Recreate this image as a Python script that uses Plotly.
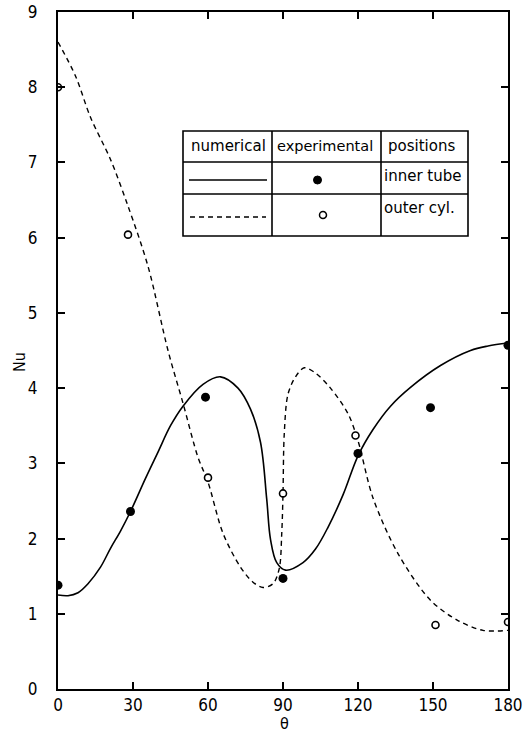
import plotly.graph_objects as go

# numerical (inner tube) - solid
num_inner_theta = [0, 4, 8, 12, 17, 21, 25, 29, 35, 40, 45, 50, 58, 65, 72, 77, 81, 83.5, 85, 87.5, 91, 98, 103, 108, 114, 120, 126, 133, 141, 153, 165, 172, 180]
num_inner_nu = [1.25, 1.24, 1.28, 1.4, 1.62, 1.87, 2.1, 2.36, 2.8, 3.15, 3.5, 3.76, 4.05, 4.15, 4.0, 3.72, 3.28, 2.52, 1.99, 1.68, 1.58, 1.68, 1.86, 2.15, 2.58, 3.1, 3.45, 3.76, 4.01, 4.3, 4.5, 4.56, 4.6]

# numerical (outer cyl.) - dashed
num_outer_theta = [0, 7, 13, 21, 28, 36, 44, 50, 56, 60, 66, 73, 78, 82, 86, 88.5, 89.5, 90, 90.5, 92, 95, 98.5, 103, 109, 116, 120, 126, 136, 149, 160, 170, 180]
num_outer_nu = [8.6, 8.15, 7.6, 7.04, 6.42, 5.62, 4.5, 3.8, 3.08, 2.75, 2.07, 1.62, 1.42, 1.35, 1.4, 1.6, 2.07, 2.6, 3.39, 3.92, 4.15, 4.27, 4.2, 4.0, 3.66, 3.3, 2.54, 1.8, 1.18, 0.91, 0.78, 0.78]

# experimental
exp_inner_theta = [0, 29, 59, 90, 120, 149, 180]
exp_inner_nu = [1.38, 2.36, 3.88, 1.47, 3.13, 3.74, 4.57]
exp_outer_theta = [0, 28, 60, 90, 119, 151, 180]
exp_outer_nu = [8.0, 6.04, 2.81, 2.6, 3.37, 0.85, 0.89]

x_ticks = [0, 30, 60, 90, 120, 150, 180]
y_ticks = [0, 1, 2, 3, 4, 5, 6, 7, 8, 9]

FONT = "Liberation Sans Narrow, DejaVu Sans Condensed, sans-serif"
TFONT = "DejaVu Sans, sans-serif"

fig = go.Figure()
fig.add_trace(go.Scatter(x=num_inner_theta, y=num_inner_nu, mode="lines",
                         line=dict(color="black", width=1.6, shape="spline", smoothing=1.0)))
fig.add_trace(go.Scatter(x=num_outer_theta, y=num_outer_nu, mode="lines",
                         line=dict(color="black", width=1.4, dash="5px,4px", shape="spline", smoothing=0.9)))
fig.add_trace(go.Scatter(x=exp_inner_theta, y=exp_inner_nu, mode="markers",
                         marker=dict(color="black", size=9, symbol="circle")))
fig.add_trace(go.Scatter(x=exp_outer_theta, y=exp_outer_nu, mode="markers",
                         marker=dict(color="white", size=7, symbol="circle",
                                     line=dict(color="black", width=1.6))))

axis_common = dict(showgrid=False, zeroline=False, showline=True, linecolor="black",
                   linewidth=2, mirror="ticks", ticks="inside", ticklen=7, tickwidth=1.5,
                   tickcolor="black", automargin=False, ticklabeloverflow="allow",
                   tickfont=dict(family=FONT, size=17, color="black"))

fig.update_xaxes(range=[0, 180], tickvals=x_ticks, ticktext=[str(v) for v in x_ticks], **axis_common)
fig.update_yaxes(range=[0, 9], tickvals=y_ticks, ticktext=[str(v) for v in y_ticks],
                 ticklabelstandoff=15, **axis_common)

# screen-pixel helpers -> paper coords (plot area spans x 58..508, y 12..689)
def px(x):
    return (x - 58) / 450.0

def py(y):
    return (689 - y) / 677.0

L, C1, C2, R = px(183), px(272), px(381), px(468)
T, H1, H2, B = py(131), py(162), py(194), py(236)
shapes = []
line_style = dict(color="black", width=1.6)
shapes.append(dict(type="rect", xref="paper", yref="paper", x0=L, x1=R, y0=B, y1=T, line=line_style, fillcolor="white", layer="above"))
for yy in (H1, H2):
    shapes.append(dict(type="line", xref="paper", yref="paper", x0=L, x1=R, y0=yy, y1=yy, line=line_style, layer="above"))
for xx in (C1, C2):
    shapes.append(dict(type="line", xref="paper", yref="paper", x0=xx, x1=xx, y0=B, y1=T, line=line_style, layer="above"))
# sample lines
shapes.append(dict(type="line", xref="paper", yref="paper", x0=px(189), x1=px(267), y0=py(180), y1=py(180),
                   line=dict(color="black", width=1.6), layer="above"))
shapes.append(dict(type="line", xref="paper", yref="paper", x0=px(190), x1=px(266), y0=py(217), y1=py(217),
                   line=dict(color="black", width=1.4, dash="5px,4px"), layer="above"))
# sample markers
shapes.append(dict(type="circle", xref="paper", yref="paper", x0=px(313.5), x1=px(321.5), y0=py(184), y1=py(176),
                   line=dict(color="black", width=1), fillcolor="black", layer="above"))
shapes.append(dict(type="circle", xref="paper", yref="paper", x0=px(319.5), x1=px(326.5), y0=py(218.5), y1=py(211.5),
                   line=dict(color="black", width=1.5), fillcolor="white", layer="above"))

annotations = []
annotations.append(dict(text="numerical", x=px(228), y=py(146), xref="paper", yref="paper", showarrow=False,
                        font=dict(family=TFONT, size=15, color="black"), xanchor="center", yanchor="middle"))
annotations.append(dict(text="experimental", x=px(325), y=py(146), xref="paper", yref="paper", showarrow=False,
                        font=dict(family=TFONT, size=14.5, color="black"), xanchor="center", yanchor="middle"))
annotations.append(dict(text="positions", x=px(386), y=py(146), xref="paper", yref="paper", showarrow=False,
                        font=dict(family=TFONT, size=15, color="black"), xanchor="left", yanchor="middle"))
annotations.append(dict(text="inner tube", x=px(382), y=py(176), xref="paper", yref="paper", showarrow=False,
                        font=dict(family=TFONT, size=15, color="black"), xanchor="left", yanchor="middle"))
annotations.append(dict(text="outer cyl.", x=px(382), y=py(208), xref="paper", yref="paper", showarrow=False,
                        font=dict(family=TFONT, size=15, color="black"), xanchor="left", yanchor="middle"))
# axis titles
annotations.append(dict(text="θ", x=px(284), y=py(723), xref="paper", yref="paper", showarrow=False,
                        font=dict(family=FONT, size=16, color="black"), xanchor="center", yanchor="middle"))
annotations.append(dict(text="Nu", x=px(19), y=py(362), xref="paper", yref="paper", showarrow=False, textangle=-90,
                        font=dict(family=FONT, size=16, color="black"), xanchor="center", yanchor="middle"))

fig.update_layout(width=524, height=732, margin=dict(l=58, r=16, t=12, b=43),
                  paper_bgcolor="white", plot_bgcolor="white", showlegend=False,
                  shapes=shapes, annotations=annotations)

# remove the browser's default 8px body margin so the figure fills the window exactly
fig.write_html("out.html", config={"displayModeBar": False},
               post_script="document.body.style.margin='0px';")
